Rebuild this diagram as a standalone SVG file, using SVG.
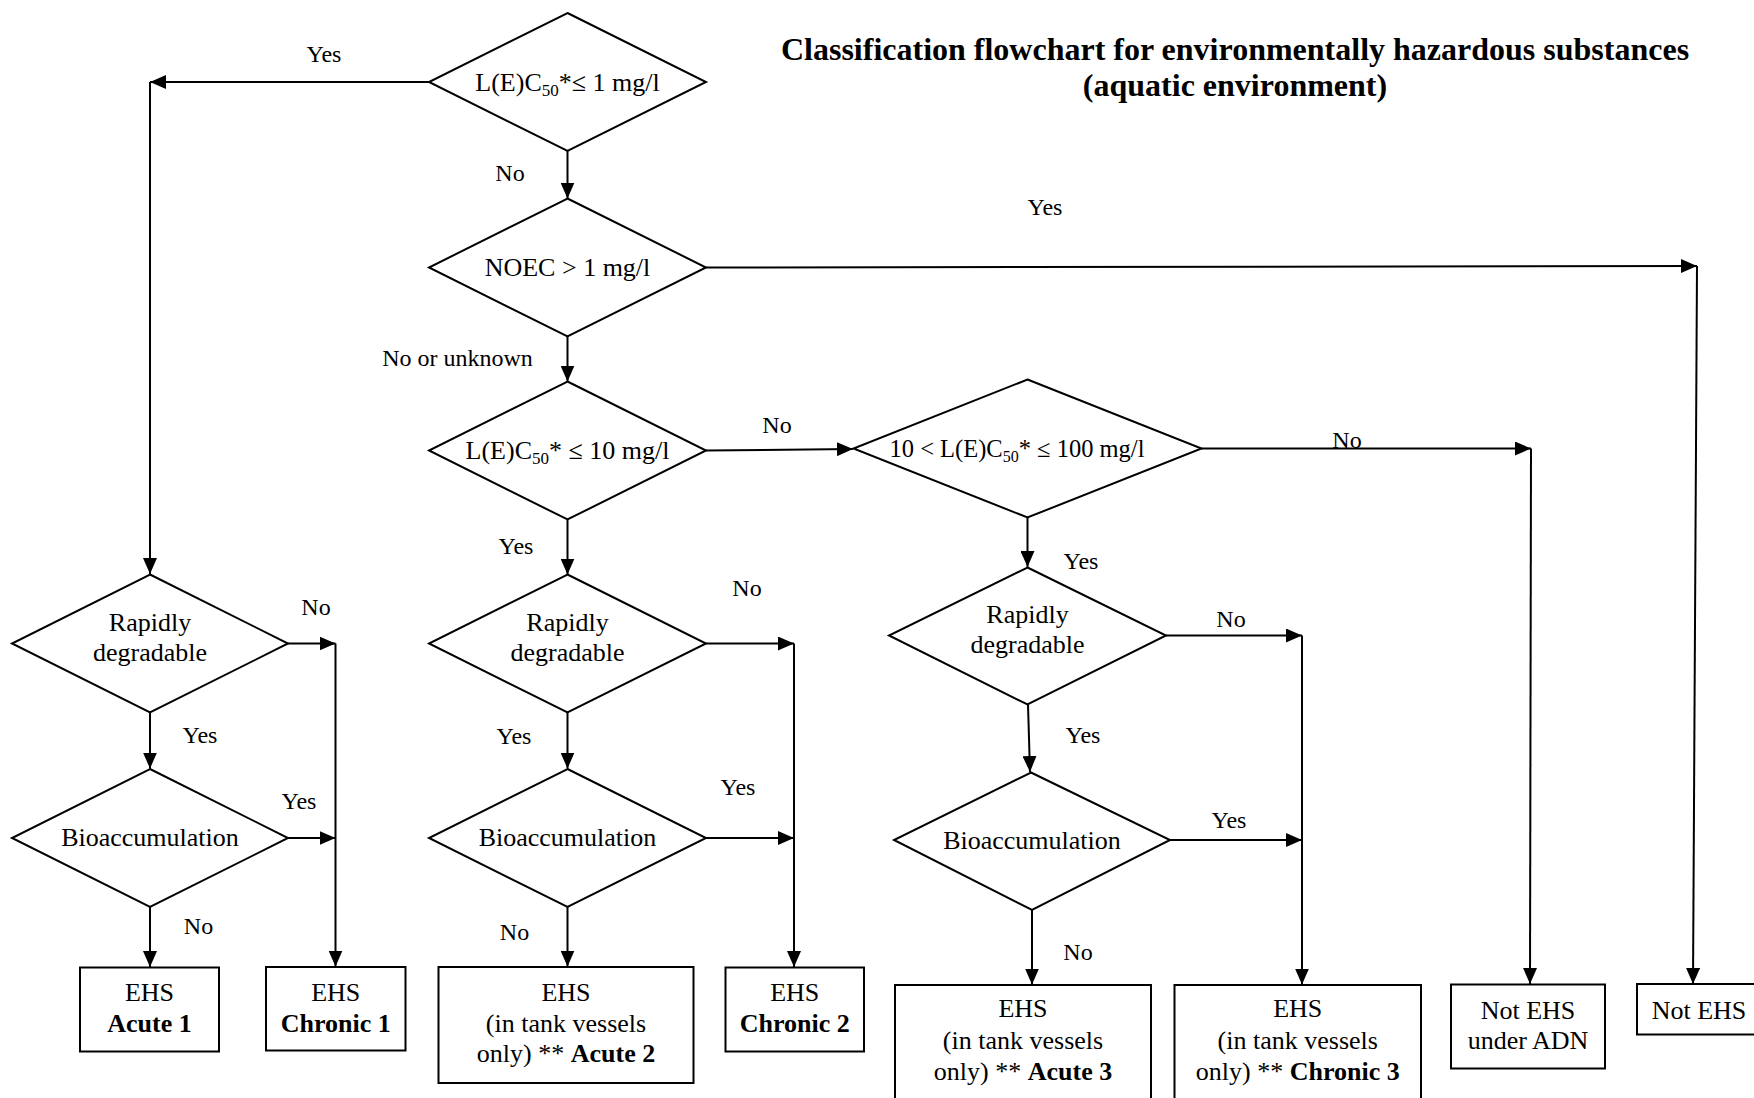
<svg xmlns="http://www.w3.org/2000/svg" width="1754" height="1098" viewBox="0 0 1754 1098">
<style>
text{font-family:"Liberation Serif","Times New Roman",serif;fill:#000}
.t{font-size:26px;text-anchor:middle}
.l{font-size:24px;text-anchor:middle}
.b{font-weight:bold}
.title{font-size:32px;font-weight:bold;text-anchor:middle}
.s{fill:#fff;stroke:#000;stroke-width:2}
.c{fill:none;stroke:#000;stroke-width:2;marker-end:url(#ah)}
</style>
<defs>
<marker id="ah" markerUnits="userSpaceOnUse" markerWidth="16" markerHeight="14" refX="16" refY="7" orient="auto">
<path d="M0,0 L16,7 L0,14 z" fill="#000"/>
</marker>
</defs>
<rect width="1754" height="1098" fill="#fff"/>
<g id="title">
<text class="title" x="1235" y="60">Classification flowchart for environmentally hazardous substances</text>
<text class="title" x="1235" y="96">(aquatic environment)</text>
</g>
<g id="connectors">
<line class="c" x1="429.5" y1="82" x2="150" y2="82"/>
<line class="c" x1="150" y1="82" x2="150" y2="574"/>
<line class="c" x1="567.5" y1="151" x2="567.5" y2="198.5"/>
<line class="c" x1="706" y1="267.5" x2="1697" y2="266"/>
<line class="c" x1="1697" y1="266" x2="1693" y2="984"/>
<line class="c" x1="567.5" y1="336.5" x2="567.5" y2="381.5"/>
<line class="c" x1="706" y1="450.5" x2="853" y2="449"/>
<line class="c" x1="1201.5" y1="448.5" x2="1531" y2="448.5"/>
<line class="c" x1="1531" y1="448.5" x2="1530" y2="984"/>
<line class="c" x1="567.5" y1="519.5" x2="567.5" y2="574.5"/>
<line class="c" x1="1027.5" y1="517.5" x2="1027.5" y2="567"/>
<line class="c" x1="287.5" y1="643.5" x2="335.5" y2="643.5"/>
<line class="c" x1="335.5" y1="643.5" x2="335.5" y2="966.5"/>
<line class="c" x1="150" y1="712.5" x2="150" y2="768.5"/>
<line class="c" x1="287.5" y1="838" x2="335.5" y2="838"/>
<line class="c" x1="150" y1="907" x2="150" y2="967"/>
<line class="c" x1="706" y1="643.5" x2="794" y2="643.5"/>
<line class="c" x1="794" y1="643.5" x2="794" y2="967"/>
<line class="c" x1="567.5" y1="712.5" x2="567.5" y2="768.5"/>
<line class="c" x1="706" y1="838" x2="794" y2="838"/>
<line class="c" x1="567.5" y1="907" x2="567.5" y2="966.5"/>
<line class="c" x1="1166" y1="635.5" x2="1302" y2="635.5"/>
<line class="c" x1="1302" y1="635.5" x2="1302" y2="984.5"/>
<line class="c" x1="1028" y1="704.5" x2="1030" y2="772"/>
<line class="c" x1="1170" y1="840" x2="1302" y2="840"/>
<line class="c" x1="1032" y1="910" x2="1032" y2="984.5"/>
</g>
<g id="connector-labels">
<text class="l" x="324" y="62">Yes</text>
<text class="l" x="510" y="181">No</text>
<text class="l" x="1045" y="215">Yes</text>
<text class="l" x="457.5" y="366">No or unknown</text>
<text class="l" x="777" y="433">No</text>
<text class="l" x="1347" y="448">No</text>
<text class="l" x="516" y="554">Yes</text>
<text class="l" x="1081" y="569">Yes</text>
<text class="l" x="316" y="615">No</text>
<text class="l" x="200" y="743">Yes</text>
<text class="l" x="299" y="809">Yes</text>
<text class="l" x="198.5" y="934">No</text>
<text class="l" x="747" y="596">No</text>
<text class="l" x="514" y="744">Yes</text>
<text class="l" x="738" y="795">Yes</text>
<text class="l" x="514.5" y="940">No</text>
<text class="l" x="1231" y="627">No</text>
<text class="l" x="1083" y="743">Yes</text>
<text class="l" x="1229" y="828">Yes</text>
<text class="l" x="1078" y="960">No</text>
</g>
<g id="d1">
<polygon class="s" points="567.5,13 706,82 567.5,151 429,82"/>
<text class="t" x="567.5" y="90.5">L(E)C<tspan font-size="17" dy="5">50</tspan><tspan dy="-5">*≤ 1 mg/l</tspan></text>
</g>
<g id="d2">
<polygon class="s" points="567.5,198.5 706,267.5 567.5,336.5 429,267.5"/>
<text class="t" x="567.5" y="276">NOEC &gt; 1 mg/l</text>
</g>
<g id="d3">
<polygon class="s" points="567.5,381.5 706,450.5 567.5,519.5 429,450.5"/>
<text class="t" x="567.5" y="459">L(E)C<tspan font-size="17" dy="5">50</tspan><tspan dy="-5">* ≤ 10 mg/l</tspan></text>
</g>
<g id="d4">
<polygon class="s" points="1027.5,379.5 1201.5,448.5 1027.5,517.5 853.5,448.5"/>
<text class="t" x="1017" y="457" font-size="24.5" style="font-size:24.5px">10 &lt; L(E)C<tspan font-size="16" style="font-size:16px" dy="5">50</tspan><tspan dy="-5">* ≤ 100 mg/l</tspan></text>
</g>
<g id="r1">
<polygon class="s" points="150,574.5 288,643.5 150,712.5 12,643.5"/>
<text class="t" x="150" y="631">Rapidly</text>
<text class="t" x="150" y="661">degradable</text>
</g>
<g id="b1">
<polygon class="s" points="150,769 288,838 150,907 12,838"/>
<text class="t" x="150" y="846">Bioaccumulation</text>
</g>
<g id="r2">
<polygon class="s" points="567.5,574.5 706,643.5 567.5,712.5 429,643.5"/>
<text class="t" x="567.5" y="631">Rapidly</text>
<text class="t" x="567.5" y="661">degradable</text>
</g>
<g id="b2">
<polygon class="s" points="567.5,769 706,838 567.5,907 429,838"/>
<text class="t" x="567.5" y="846">Bioaccumulation</text>
</g>
<g id="r3">
<polygon class="s" points="1027.5,567.5 1166,635.5 1027.5,704.5 889,635.5"/>
<text class="t" x="1027.5" y="623">Rapidly</text>
<text class="t" x="1027.5" y="653">degradable</text>
</g>
<g id="b3">
<polygon class="s" points="1031,772.5 1170,840 1032,910 894,840"/>
<text class="t" x="1032" y="849">Bioaccumulation</text>
</g>
<g id="acute1">
<rect class="s" x="80" y="967.5" width="139" height="84"/>
<text class="t" x="149.5" y="1001">EHS</text>
<text class="t b" x="149.5" y="1032">Acute 1</text>
</g>
<g id="chronic1">
<rect class="s" x="266" y="967" width="139.5" height="83.5"/>
<text class="t" x="335.75" y="1001">EHS</text>
<text class="t b" x="335.75" y="1032">Chronic 1</text>
</g>
<g id="acute2">
<rect class="s" x="438.5" y="967" width="255" height="116"/>
<text class="t" x="566" y="1001">EHS</text>
<text class="t" x="566" y="1031.5">(in tank vessels</text>
<text class="t" x="566" y="1062">only) ** <tspan class="b">Acute 2</tspan></text>
</g>
<g id="chronic2">
<rect class="s" x="725.5" y="967.5" width="138.5" height="84"/>
<text class="t" x="794.75" y="1001">EHS</text>
<text class="t b" x="794.75" y="1032">Chronic 2</text>
</g>
<g id="acute3">
<rect class="s" x="895" y="985" width="256" height="130"/>
<text class="t" x="1023" y="1017">EHS</text>
<text class="t" x="1023" y="1048.5">(in tank vessels</text>
<text class="t" x="1023" y="1080">only) ** <tspan class="b">Acute 3</tspan></text>
</g>
<g id="chronic3">
<rect class="s" x="1174.5" y="985" width="246.5" height="130"/>
<text class="t" x="1297.75" y="1017">EHS</text>
<text class="t" x="1297.75" y="1048.5">(in tank vessels</text>
<text class="t" x="1297.75" y="1080">only) ** <tspan class="b">Chronic 3</tspan></text>
</g>
<g id="notehsadn">
<rect class="s" x="1451" y="984.5" width="154" height="84"/>
<text class="t" x="1528" y="1019">Not EHS</text>
<text class="t" x="1528" y="1049">under ADN</text>
</g>
<g id="notehs">
<rect class="s" x="1637" y="984" width="130" height="50.5"/>
<text class="t" x="1699" y="1019">Not EHS</text>
</g>
</svg>
